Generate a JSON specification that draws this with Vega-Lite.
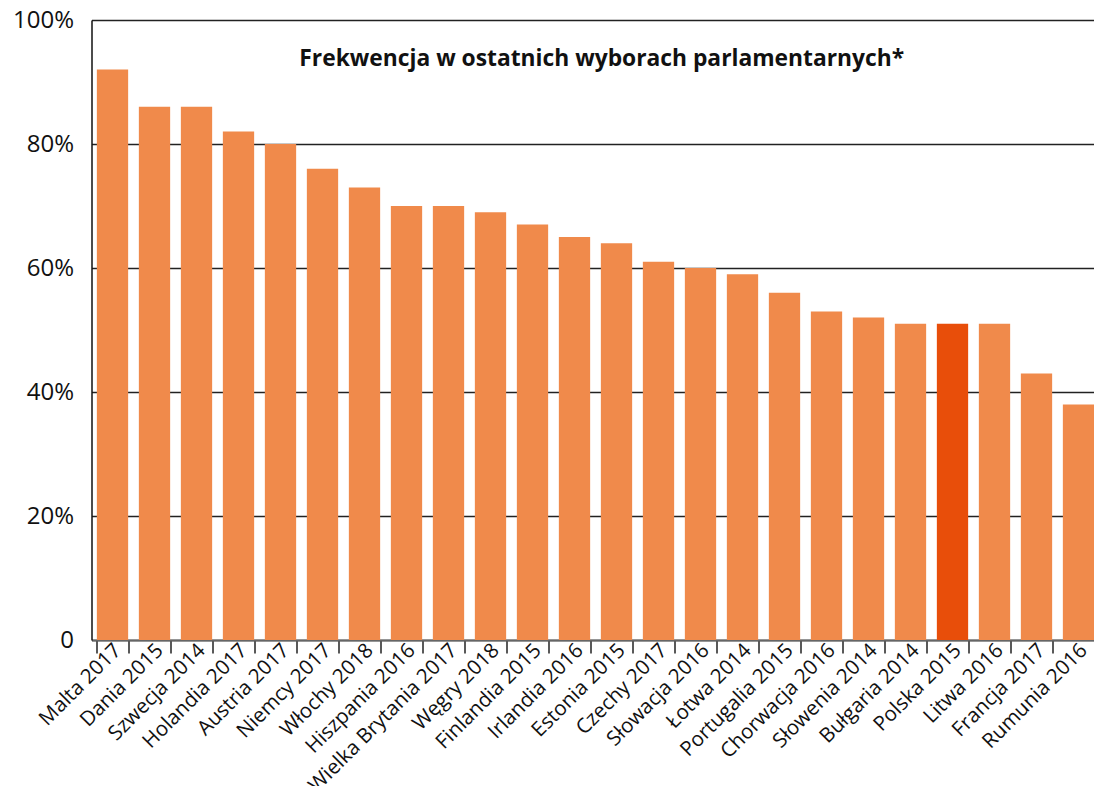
{
  "$schema": "https://vega.github.io/schema/vega-lite/v6.json",
  "width": 1002.5,
  "height": 620,
  "autosize": {"type": "none"},
  "padding": {"left": 91.5, "top": 20, "right": 0, "bottom": 146},
  "background": "white",
  "title": {
    "text": "Frekwencja w ostatnich wyborach parlamentarnych*",
    "font": "Open Sans",
    "fontSize": 22.8,
    "fontWeight": "bold",
    "color": "#111",
    "anchor": "middle",
    "orient": "top",
    "baseline": "alphabetic",
    "offset": -81,
    "dx": 9
  },
  "data": {
    "values": [
      {"kraj": "Malta 2017", "frekwencja": 0.92},
      {"kraj": "Dania 2015", "frekwencja": 0.86},
      {"kraj": "Szwecja 2014", "frekwencja": 0.86},
      {"kraj": "Holandia 2017", "frekwencja": 0.82},
      {"kraj": "Austria 2017", "frekwencja": 0.80},
      {"kraj": "Niemcy 2017", "frekwencja": 0.76},
      {"kraj": "Włochy 2018", "frekwencja": 0.73},
      {"kraj": "Hiszpania 2016", "frekwencja": 0.70},
      {"kraj": "Wielka Brytania 2017", "frekwencja": 0.70},
      {"kraj": "Węgry 2018", "frekwencja": 0.69},
      {"kraj": "Finlandia 2015", "frekwencja": 0.67},
      {"kraj": "Irlandia 2016", "frekwencja": 0.65},
      {"kraj": "Estonia 2015", "frekwencja": 0.64},
      {"kraj": "Czechy 2017", "frekwencja": 0.61},
      {"kraj": "Słowacja 2016", "frekwencja": 0.60},
      {"kraj": "Łotwa 2014", "frekwencja": 0.59},
      {"kraj": "Portugalia 2015", "frekwencja": 0.56},
      {"kraj": "Chorwacja 2016", "frekwencja": 0.53},
      {"kraj": "Słowenia 2014", "frekwencja": 0.52},
      {"kraj": "Bułgaria 2014", "frekwencja": 0.51},
      {"kraj": "Polska 2015", "frekwencja": 0.51},
      {"kraj": "Litwa 2016", "frekwencja": 0.51},
      {"kraj": "Francja 2017", "frekwencja": 0.43},
      {"kraj": "Rumunia 2016", "frekwencja": 0.38}
    ]
  },
  "mark": {"type": "bar"},
  "encoding": {
    "x": {
      "field": "kraj",
      "type": "nominal",
      "sort": null,
      "scale": {"range": [0, 1008], "paddingInner": 0.255, "paddingOuter": 0.1275},
      "axis": {
        "title": null,
        "labelAngle": -45,
        "labelAlign": "right",
        "labelBaseline": "middle",
        "labelFont": "Open Sans",
        "labelFontSize": 20.5,
        "labelColor": "#111",
        "labelPadding": -6,
        "labelOffset": 5,
        "labelLimit": 0,
        "labelOverlap": false,
        "tickBand": "extent",
        "tickSize": 13,
        "tickColor": "#222",
        "tickWidth": 1.5,
        "domainColor": "#666",
        "domainWidth": 2,
        "grid": false
      }
    },
    "y": {
      "field": "frekwencja",
      "type": "quantitative",
      "scale": {"domain": [0, 1], "nice": false},
      "axis": {
        "title": null,
        "values": [0, 0.2, 0.4, 0.6, 0.8, 1],
        "labelExpr": "datum.value == 0 ? '0' : format(datum.value, '.0%')",
        "labelFont": "Open Sans",
        "labelFontSize": 24,
        "labelColor": "#111",
        "labelPadding": 18,
        "ticks": false,
        "domainColor": "#111",
        "domainWidth": 1.5,
        "grid": true,
        "gridColor": "#222",
        "gridWidth": 1.5
      }
    },
    "color": {
      "condition": {"test": "datum.kraj === 'Polska 2015'", "value": "#E84E0A"},
      "value": "#F08A4B"
    }
  },
  "config": {
    "view": {"stroke": null},
    "axis": {"zindex": 0}
  }
}
